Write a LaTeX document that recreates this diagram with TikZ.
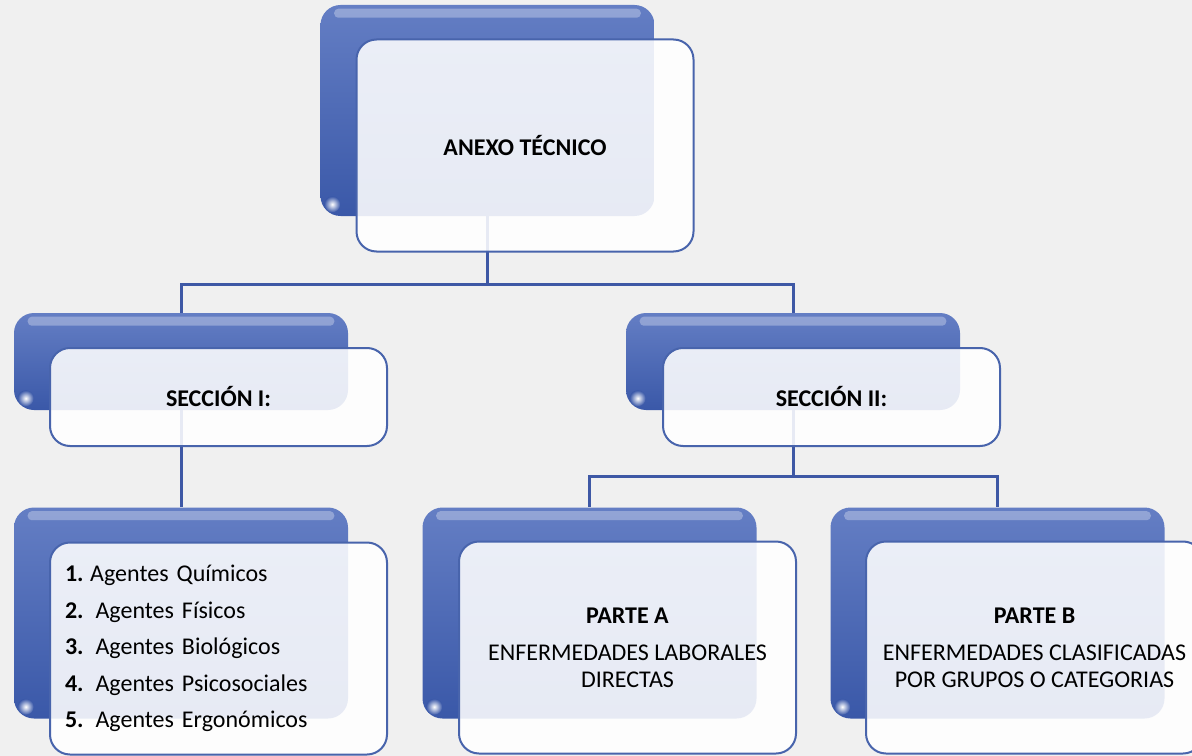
\documentclass[tikz,border=0pt]{standalone}
\usepackage{fontspec}
\setmainfont{Carlito}

\definecolor{azulclaro}{RGB}{100,126,196}
\definecolor{azuloscuro}{RGB}{58,88,168}
\definecolor{azulborde}{RGB}{72,100,172}
\definecolor{azullinea}{RGB}{62,88,165}
\definecolor{grisfondo}{RGB}{240,240,240}

\begin{document}
\frenchspacing
\begin{tikzpicture}[x=0.75pt, y=-0.75pt,
    fondo/.style={rectangle, rounded corners=15pt, draw=none, top color=azulclaro, bottom color=azuloscuro, minimum width=250.5pt, inner sep=0pt},
    tarjeta/.style={rectangle, rounded corners=15pt, draw=azulborde, line width=1.5pt, fill=white, fill opacity=0.88, text opacity=1, minimum width=252.75pt, inner sep=0pt, font=\fontsize{18}{20}\selectfont},
    conector/.style={azullinea, line width=2.25pt}]
    \def\fondo#1#2#3{
    \node[fondo, minimum height=#3] (#1) at #2 {};
    \fill[white, opacity=0.3, rounded corners=3pt] ([shift={(14,4)}]#1.north west) rectangle ([shift={(-14,13)}]#1.north east);
    \shade[inner color=white, outer color=azuloscuro] ([shift={(12,-12)}]#1.south west) circle (8);
    }

    \useasboundingbox (0,0) rectangle (1192,756);
    \fill[grisfondo] (0,0) rectangle (1192,756);
    \clip (0,0) rectangle (1192,756);

    \fondo{anexoF}{(487.5,110.5)}{158.25pt}
    \fondo{seccion1F}{(181,361.5)}{72.75pt}
    \fondo{seccion2F}{(793,361.5)}{72.75pt}
    \fondo{agentesF}{(181,613)}{158.25pt}
    \fondo{parteaF}{(589.5,613)}{158.25pt}
    \fondo{partebF}{(997.5,613)}{158.25pt}

    \draw[conector] (anexoF.south) -- ++(0,68) coordinate (rama1);
    \draw[conector] (rama1) -| (seccion1F.north);
    \draw[conector] (rama1) -| (seccion2F.north);
    \draw[conector] (seccion1F.south) -- (agentesF.north);
    \draw[conector] (seccion2F.south) -- ++(0,66) coordinate (rama2);
    \draw[conector] (rama2) -| (parteaF.north);
    \draw[conector] (rama2) -| (partebF.north);

    \node[tarjeta, minimum height=159pt] (anexo) at (525,145.5) {\textbf{ANEXO TÉCNICO}};
    \node[tarjeta, minimum height=73.5pt] (seccion1) at (218.5,397) {\textbf{SECCIÓN I:}};
    \node[tarjeta, minimum height=73.5pt] (seccion2) at (831.5,397) {\textbf{SECCIÓN II:}};
    \node[tarjeta, minimum height=159pt, text width=230.25pt, inner xsep=11.25pt, align=left, font=\fontsize{18}{27.4}\selectfont] (agentes) at (218.5,648.5)
        {\textbf{1.}\hspace{-1pt} Agentes Químicos\\
         \textbf{2.}\hspace{3pt} Agentes Físicos\\
         \textbf{3.}\hspace{3pt} Agentes Biológicos\\
         \textbf{4.}\hspace{3pt} Agentes Psicosociales\\
         \textbf{5.}\hspace{3pt} Agentes Ergonómicos};
    \node[tarjeta, minimum height=159pt, align=center] (partea) at (627.5,647.5)
        {\textbf{PARTE A}\\[8.25pt] ENFERMEDADES LABORALES\\ DIRECTAS};
    \node[tarjeta, minimum height=159pt, align=center] (parteb) at (1034.5,647.5)
        {\textbf{PARTE B}\\[8.25pt] ENFERMEDADES CLASIFICADAS\\ POR GRUPOS O CATEGORIAS};
\end{tikzpicture}
\end{document}
